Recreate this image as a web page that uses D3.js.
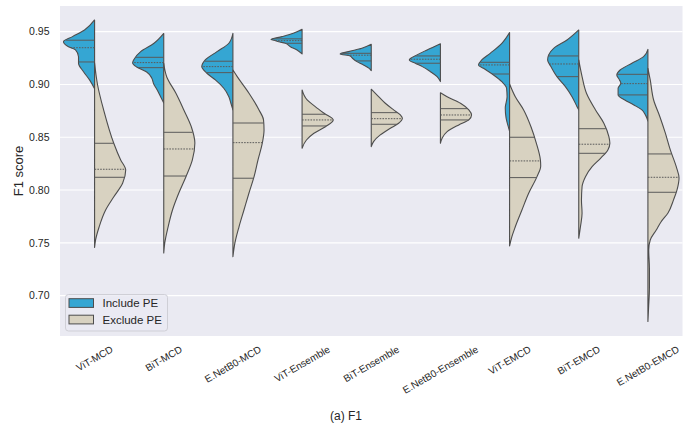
<!DOCTYPE html>
<html>
<head>
<meta charset="utf-8">
<script src="https://cdn.jsdelivr.net/npm/d3@7"></script>
<style>
  body { margin: 0; background: #fff; }
  text { font-family: "Liberation Sans", Arial, sans-serif; fill: #262626; }
</style>
</head>
<body>
<div id="chart"></div>
<script>
var models = ["ViT-MCD", "BiT-MCD", "E.NetB0-MCD", "ViT-Ensemble", "BiT-Ensemble",
              "E.NetB0-Ensemble", "ViT-EMCD", "BiT-EMCD", "E.NetB0-EMCD"];
var groups = ["Include PE", "Exclude PE"];
var yTicks = [0.70, 0.75, 0.80, 0.85, 0.90, 0.95];

// violin outlines: [F1 score, relative density]
var includeShapes = [
  [[0.9611,0],[0.9516,10],[0.9453,22],[0.9405,31],[0.9358,26],[0.9327,19],[0.9263,16],[0.9201,16],[0.9121,11],[0.9043,5],[0.8960,0]],
  [[0.9483,0],[0.9390,9.7],[0.9311,23],[0.9232,30],[0.9204,31],[0.9166,27],[0.9118,17],[0.9062,12],[0.9005,10],[0.8948,6.5],[0.8882,3],[0.8825,0]],
  [[0.9485,0],[0.9390,4],[0.9311,15.7],[0.9232,27.3],[0.9169,30.7],[0.9106,25.7],[0.9043,17.3],[0.8964,9],[0.8884,4],[0.8822,2],[0.8759,0]],
  [[0.9523,0],[0.9485,8.7],[0.9453,20],[0.9425,31],[0.9418,28],[0.9405,23.3],[0.9390,16.7],[0.9358,11.7],[0.9327,5],[0.9289,0]],
  [[0.9380,0],[0.9343,9.3],[0.9311,22.7],[0.9289,31],[0.9270,21],[0.9248,18.7],[0.9216,14.3],[0.9185,7.7],[0.9153,2],[0.9131,0]],
  [[0.9386,0],[0.9327,13.3],[0.9280,23.3],[0.9232,31],[0.9201,25],[0.9169,18],[0.9121,10],[0.9074,3.3],[0.9027,0]],
  [[0.9491,0],[0.9390,7.7],[0.9295,19.3],[0.9232,27.7],[0.9185,31],[0.9153,26],[0.9090,16],[0.9026,7.7],[0.8964,3],[0.8884,2.5],[0.8777,4.3],[0.8683,3.5],[0.8607,1.5],[0.8555,0]],
  [[0.9516,0],[0.9421,11.7],[0.9342,25],[0.9279,30],[0.9232,31],[0.9169,27.7],[0.9074,21.7],[0.8980,13.3],[0.8884,6.7],[0.8790,1.7],[0.8759,0]],
  [[0.9333,0],[0.9263,4.3],[0.9201,16],[0.9137,27.7],[0.9090,31],[0.9043,28.3],[0.9011,27],[0.8964,29.7],[0.8901,29.7],[0.8853,23],[0.8806,14],[0.8759,6],[0.8712,2.5],[0.8654,0]]
];
var excludeShapes = [
  [[0.9204,0],[0.8995,3],[0.8759,9],[0.8446,19],[0.8285,26],[0.8190,31],[0.8067,28],[0.7934,19],[0.7811,11],[0.7650,4.5],[0.7527,1],[0.7456,0]],
  [[0.9201,0],[0.9071,3],[0.8919,12],[0.8759,20],[0.8598,27.5],[0.8446,31],[0.8285,28.5],[0.8124,22],[0.7972,15],[0.7811,8.7],[0.7650,4.3],[0.7499,1],[0.7404,0]],
  [[0.9137,0],[0.9074,4.3],[0.8917,16],[0.8759,26],[0.8664,30.5],[0.8569,31],[0.8446,29.3],[0.8285,25],[0.8124,21],[0.7972,16],[0.7811,11],[0.7650,6],[0.7499,2],[0.7369,0]],
  [[0.8948,0],[0.8853,5],[0.8790,13],[0.8727,21.7],[0.8664,30.7],[0.8600,23],[0.8538,11.7],[0.8474,4.3],[0.8396,0]],
  [[0.8955,0],[0.8885,7.3],[0.8822,14],[0.8759,22.3],[0.8711,29],[0.8680,31],[0.8633,27.3],[0.8585,19],[0.8522,9],[0.8459,2.3],[0.8411,0]],
  [[0.8922,0],[0.8884,6.7],[0.8822,20],[0.8759,28.3],[0.8711,31],[0.8664,28.3],[0.8617,18.3],[0.8554,6.7],[0.8491,1.7],[0.8443,0]],
  [[0.9005,0],[0.8884,5.7],[0.8759,14],[0.8600,21.3],[0.8443,26.7],[0.8285,30.7],[0.8228,31],[0.8127,27.3],[0.7970,19],[0.7811,12.3],[0.7653,5.7],[0.7559,2.3],[0.7471,0]],
  [[0.9232,0],[0.9074,3.3],[0.8917,7.7],[0.8759,16.7],[0.8633,25],[0.8506,30],[0.8443,31],[0.8380,29],[0.8301,21.7],[0.8222,13.3],[0.8127,6.7],[0.8032,3.3],[0.7906,2.7],[0.7780,3.3],[0.7653,1.7],[0.7543,0]],
  [[0.9153,0],[0.9043,2.3],[0.8853,5.7],[0.8692,12],[0.8541,17.3],[0.8380,22.3],[0.8219,28.3],[0.8115,31],[0.8002,29],[0.7907,25.5],[0.7783,20],[0.7698,13],[0.7622,8.3],[0.7527,2.3],[0.7433,0.8],[0.7262,1.5],[0.7073,1.5],[0.6893,0.7],[0.6756,0]]
];

// [q1, median, q3]
var includeQuartiles = [
  [0.9213,0.9348,0.9419],[0.9159,0.9207,0.9257],[0.9112,0.9169,0.9220],
  [0.9390,0.9415,0.9432],[0.9223,0.9277,0.9295],[0.9201,0.9239,0.9270],
  [0.9099,0.9185,0.9210],[0.9074,0.9194,0.9270],[0.8901,0.9008,0.9096]
];
var excludeQuartiles = [
  [0.8121,0.8197,0.8443],[0.8133,0.8389,0.8547],[0.8112,0.8449,0.8635],
  [0.8607,0.8664,0.8718],[0.8623,0.8676,0.8733],[0.8664,0.8711,0.8771],
  [0.8118,0.8276,0.8500],[0.8348,0.8434,0.8581],[0.7979,0.8121,0.8342]
];

var colors = {"Include PE": "#35a6d3", "Exclude PE": "#d8d2c1"};
var outline = "#4d4d4d";

var width = 700, height = 437;
var margin = {top: 6, right: 17.5, bottom: 101, left: 60};
var plotW = width - margin.left - margin.right,
    plotH = height - margin.top - margin.bottom;

var svg = d3.select("#chart").append("svg")
    .attr("width", width)
    .attr("height", height);

var x = d3.scaleBand().domain(models).range([margin.left, margin.left + plotW]).padding(0);
var y = d3.scaleLinear().domain([0.6618, 0.9743]).range([margin.top + plotH, margin.top]);
var half = x.bandwidth() * 0.45;

svg.append("rect")
    .attr("x", margin.left).attr("y", margin.top)
    .attr("width", plotW).attr("height", plotH)
    .attr("fill", "#eaeaf2");

svg.append("g").selectAll("line")
    .data(yTicks).enter().append("line")
    .attr("x1", margin.left).attr("x2", margin.left + plotW)
    .attr("y1", function(d) { return y(d); })
    .attr("y2", function(d) { return y(d); })
    .attr("stroke", "#fff").attr("stroke-width", 1.1);

svg.append("g").selectAll("text")
    .data(yTicks).enter().append("text")
    .attr("x", 49.5)
    .attr("y", function(d) { return y(d); })
    .attr("dy", "0.35em")
    .attr("text-anchor", "end")
    .style("font-size", "10.5px")
    .text(function(d) { return d3.format(".2f")(d); });

function widthAt(pts, v) {
  for (var k = 0; k < pts.length - 1; k++) {
    var a = pts[k], b = pts[k + 1];
    if ((v <= a[0] && v >= b[0]) || (v >= a[0] && v <= b[0])) {
      var t = (v - a[0]) / (b[0] - a[0]);
      return a[1] + t * (b[1] - a[1]);
    }
  }
  return 0;
}

function drawHalf(i, pts, quart, group) {
  var cx = x(models[i]) + x.bandwidth() / 2;
  var side = group === "Include PE" ? -1 : 1;
  var sorted = pts.slice().sort(function(a, b) { return b[0] - a[0]; });
  var w = d3.scaleLinear().domain([0, d3.max(sorted, function(d) { return d[1]; })]).range([0, half]);

  var area = d3.area()
      .curve(d3.curveMonotoneY)
      .y(function(d) { return y(d[0]); })
      .x0(cx)
      .x1(function(d) { return cx + side * w(d[1]); });

  var g = svg.append("g").attr("class", "violin");
  g.append("path")
      .attr("d", area(sorted))
      .attr("fill", colors[group])
      .attr("stroke", outline)
      .attr("stroke-width", 1.1)
      .attr("stroke-linejoin", "round");

  g.selectAll("line")
      .data(quart).enter().append("line")
      .attr("x1", cx)
      .attr("x2", function(d) { return cx + side * w(widthAt(sorted, d)); })
      .attr("y1", function(d) { return y(d); })
      .attr("y2", function(d) { return y(d); })
      .attr("stroke", "#5a5a5a")
      .attr("stroke-width", 1)
      .attr("stroke-dasharray", function(d, j) { return j === 1 ? "1.6,1.2" : null; });
}

models.forEach(function(m, i) {
  drawHalf(i, includeShapes[i], includeQuartiles[i], "Include PE");
  drawHalf(i, excludeShapes[i], excludeQuartiles[i], "Exclude PE");
});

// x tick labels, rotated 30 degrees and centred under each violin
var labelTop = margin.top + plotH + 8;
svg.append("g").selectAll("text")
    .data(models).enter().append("text")
    .style("font-size", "10px")
    .attr("text-anchor", "middle")
    .attr("dy", "0.35em")
    .text(function(d) { return d; })
    .each(function(d) {
      var len = this.getComputedTextLength();
      var h = len * 0.5 + 10 * 0.866;
      var cx = x(d) + x.bandwidth() / 2, cy = labelTop + h / 2;
      d3.select(this).attr("transform", "translate(" + cx + "," + cy + ") rotate(-30)");
    });

svg.append("text")
    .attr("transform", "translate(23," + (margin.top + plotH / 2) + ") rotate(-90)")
    .attr("text-anchor", "middle")
    .style("font-size", "13px")
    .text("F1 score");

svg.append("text")
    .attr("x", 346).attr("y", 420)
    .attr("text-anchor", "middle")
    .style("font-size", "12px")
    .text("(a) F1");

// legend
var legend = svg.append("g").attr("class", "legend");
legend.append("rect")
    .attr("x", 65.5).attr("y", 294.5)
    .attr("width", 102).attr("height", 36.5)
    .attr("rx", 3)
    .attr("fill", "#eaeaf2").attr("fill-opacity", 0.8)
    .attr("stroke", "#cfcfd6");
var items = legend.selectAll(".item")
    .data(groups).enter().append("g")
    .attr("class", "item")
    .attr("transform", function(d, i) { return "translate(69," + (298.7 + i * 16.5) + ")"; });
items.append("rect")
    .attr("width", 24.5).attr("height", 8.7)
    .attr("fill", function(d) { return colors[d]; })
    .attr("stroke", outline).attr("stroke-width", 1);
items.append("text")
    .attr("x", 33.5).attr("y", 4.5)
    .attr("dy", "0.35em")
    .style("font-size", "11.5px")
    .text(function(d) { return d; });
</script>
</body>
</html>
